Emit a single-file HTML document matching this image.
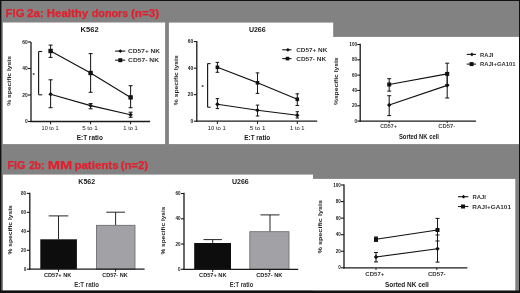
<!DOCTYPE html>
<html><head><meta charset="utf-8"><title>Figure 2</title>
<style>html,body{margin:0;padding:0;background:#828282;}body{width:520px;height:293px;overflow:hidden;}svg{display:block;}</style>
</head><body>
<svg width="520" height="293" viewBox="0 0 520 293" font-family="'Liberation Sans', Arial, sans-serif">
<rect x="0.0" y="0.0" width="520.0" height="293.0" fill="#828282" />
<rect x="2.8" y="22.5" width="162.3" height="121.6" fill="#fff" />
<rect x="168.9" y="22.6" width="164.3" height="121.5" fill="#fff" />
<rect x="333.0" y="36.9" width="186.0" height="107.2" fill="#fff" />
<rect x="3.0" y="174.6" width="310.0" height="116.0" fill="#fff" />
<rect x="312.8" y="178.9" width="202.5" height="112.0" fill="#fff" />
<rect x="0.0" y="0.0" width="520.0" height="1.0" fill="#111" />
<rect x="0.0" y="0.0" width="1.4" height="293.0" fill="#111" />
<rect x="519.0" y="0.0" width="1.0" height="293.0" fill="#111" />
<rect x="0.0" y="290.5" width="520.0" height="2.5" fill="#111" />
<text x="5.62" y="16.7" font-size="11.4" font-weight="bold" fill="#e41e2c" textLength="18.83" lengthAdjust="spacingAndGlyphs" stroke="#e41e2c" stroke-width="0.25">FIG</text>
<text x="27.14" y="16.7" font-size="11.4" font-weight="bold" fill="#e41e2c" textLength="16.88" lengthAdjust="spacingAndGlyphs" stroke="#e41e2c" stroke-width="0.25">2a:</text>
<text x="46.81" y="16.7" font-size="11.4" font-weight="bold" fill="#e41e2c" textLength="41.23" lengthAdjust="spacingAndGlyphs" stroke="#e41e2c" stroke-width="0.25">Healthy</text>
<text x="91.72" y="16.7" font-size="11.4" font-weight="bold" fill="#e41e2c" textLength="36.55" lengthAdjust="spacingAndGlyphs" stroke="#e41e2c" stroke-width="0.25">donors</text>
<text x="130.97" y="16.7" font-size="11.4" font-weight="bold" fill="#e41e2c" textLength="28.13" lengthAdjust="spacingAndGlyphs" stroke="#e41e2c" stroke-width="0.25">(n=3)</text>
<text x="7.45" y="168.7" font-size="11.2" font-weight="bold" fill="#e41e2c" textLength="18.07" lengthAdjust="spacingAndGlyphs" stroke="#e41e2c" stroke-width="0.25">FIG</text>
<text x="29.2" y="168.7" font-size="11.2" font-weight="bold" fill="#e41e2c" textLength="15.17" lengthAdjust="spacingAndGlyphs" stroke="#e41e2c" stroke-width="0.25">2b:</text>
<text x="47.7" y="168.7" font-size="11.2" font-weight="bold" fill="#e41e2c" textLength="24.42" lengthAdjust="spacingAndGlyphs" stroke="#e41e2c" stroke-width="0.25">MM</text>
<text x="74.4" y="168.7" font-size="11.2" font-weight="bold" fill="#e41e2c" textLength="44.2" lengthAdjust="spacingAndGlyphs" stroke="#e41e2c" stroke-width="0.25">patients</text>
<text x="120.69" y="168.7" font-size="11.2" font-weight="bold" fill="#e41e2c" textLength="27.3" lengthAdjust="spacingAndGlyphs" stroke="#e41e2c" stroke-width="0.25">(n=2)</text>
<text x="80.61" y="32.2" font-size="7.4" font-weight="bold" fill="#1a1a1a" textLength="18.0" lengthAdjust="spacingAndGlyphs">K562</text>
<line x1="31.0" y1="41.9" x2="31.0" y2="122.1" stroke="#1a1a1a" stroke-width="1.3"/>
<line x1="28.0" y1="121.5" x2="31.0" y2="121.5" stroke="#1a1a1a" stroke-width="1.1"/>
<text x="27.8" y="123.26" font-size="4.9" text-anchor="end" font-weight="bold" fill="#222">0</text>
<line x1="28.0" y1="95.0" x2="31.0" y2="95.0" stroke="#1a1a1a" stroke-width="1.1"/>
<text x="27.8" y="96.76" font-size="4.9" text-anchor="end" font-weight="bold" fill="#222">20</text>
<line x1="28.0" y1="68.5" x2="31.0" y2="68.5" stroke="#1a1a1a" stroke-width="1.1"/>
<text x="27.8" y="70.26" font-size="4.9" text-anchor="end" font-weight="bold" fill="#222">40</text>
<line x1="28.0" y1="42.0" x2="31.0" y2="42.0" stroke="#1a1a1a" stroke-width="1.1"/>
<text x="27.8" y="43.76" font-size="4.9" text-anchor="end" font-weight="bold" fill="#222">60</text>
<line x1="30.4" y1="121.5" x2="150.0" y2="121.5" stroke="#1a1a1a" stroke-width="1.3"/>
<line x1="50.6" y1="121.5" x2="50.6" y2="124.3" stroke="#1a1a1a" stroke-width="1.0"/>
<line x1="90.6" y1="121.5" x2="90.6" y2="124.3" stroke="#1a1a1a" stroke-width="1.0"/>
<line x1="130.6" y1="121.5" x2="130.6" y2="124.3" stroke="#1a1a1a" stroke-width="1.0"/>
<text transform="translate(11.1,105.87) rotate(-90)" x="0" y="0" font-size="6.2" font-weight="bold" fill="#222" textLength="49.86" lengthAdjust="spacingAndGlyphs">% specific lysis</text>
<text x="41.59" y="130.1" font-size="5.2" fill="#222" textLength="16.91" lengthAdjust="spacingAndGlyphs">10 to 1</text>
<text x="82.15" y="130.1" font-size="5.2" fill="#222" textLength="15.68" lengthAdjust="spacingAndGlyphs">5 to 1</text>
<text x="123.37" y="130.1" font-size="5.2" fill="#222" textLength="14.43" lengthAdjust="spacingAndGlyphs">1 to 1</text>
<text x="76.68" y="139.7" font-size="7.0" font-weight="bold" fill="#1a1a1a" textLength="26.18" lengthAdjust="spacingAndGlyphs">E:T ratio</text>
<line x1="38.6" y1="51.5" x2="38.6" y2="94.8" stroke="#1a1a1a" stroke-width="1.15"/>
<line x1="38.6" y1="51.5" x2="42.2" y2="51.5" stroke="#1a1a1a" stroke-width="1.1"/>
<line x1="38.6" y1="94.8" x2="42.2" y2="94.8" stroke="#1a1a1a" stroke-width="1.1"/>
<text x="33.7" y="77.2" font-size="6" text-anchor="middle" font-weight="bold" fill="#222">*</text>
<polyline points="50.6,51.0 90.6,73.0 130.6,97.4" fill="none" stroke="#111" stroke-width="1.15"/>
<polyline points="50.6,94.3 90.6,105.6 130.6,114.8" fill="none" stroke="#111" stroke-width="1.15"/>
<line x1="50.6" y1="45.1" x2="50.6" y2="57.4" stroke="#1a1a1a" stroke-width="1.05"/>
<line x1="48.6" y1="45.1" x2="52.6" y2="45.1" stroke="#1a1a1a" stroke-width="1.05"/>
<line x1="48.6" y1="57.4" x2="52.6" y2="57.4" stroke="#1a1a1a" stroke-width="1.05"/>
<line x1="90.6" y1="53.6" x2="90.6" y2="92.3" stroke="#1a1a1a" stroke-width="1.05"/>
<line x1="88.6" y1="53.6" x2="92.6" y2="53.6" stroke="#1a1a1a" stroke-width="1.05"/>
<line x1="88.6" y1="92.3" x2="92.6" y2="92.3" stroke="#1a1a1a" stroke-width="1.05"/>
<line x1="130.6" y1="85.7" x2="130.6" y2="107.7" stroke="#1a1a1a" stroke-width="1.05"/>
<line x1="128.6" y1="85.7" x2="132.6" y2="85.7" stroke="#1a1a1a" stroke-width="1.05"/>
<line x1="128.6" y1="107.7" x2="132.6" y2="107.7" stroke="#1a1a1a" stroke-width="1.05"/>
<line x1="50.6" y1="79.8" x2="50.6" y2="107.7" stroke="#1a1a1a" stroke-width="1.05"/>
<line x1="48.6" y1="79.8" x2="52.6" y2="79.8" stroke="#1a1a1a" stroke-width="1.05"/>
<line x1="48.6" y1="107.7" x2="52.6" y2="107.7" stroke="#1a1a1a" stroke-width="1.05"/>
<line x1="90.6" y1="103.6" x2="90.6" y2="108.8" stroke="#1a1a1a" stroke-width="1.05"/>
<line x1="88.6" y1="103.6" x2="92.6" y2="103.6" stroke="#1a1a1a" stroke-width="1.05"/>
<line x1="88.6" y1="108.8" x2="92.6" y2="108.8" stroke="#1a1a1a" stroke-width="1.05"/>
<line x1="130.6" y1="112.2" x2="130.6" y2="117.3" stroke="#1a1a1a" stroke-width="1.05"/>
<line x1="128.6" y1="112.2" x2="132.6" y2="112.2" stroke="#1a1a1a" stroke-width="1.05"/>
<line x1="128.6" y1="117.3" x2="132.6" y2="117.3" stroke="#1a1a1a" stroke-width="1.05"/>
<rect x="48.4" y="48.8" width="4.4" height="4.4" fill="#111" />
<rect x="88.4" y="70.8" width="4.4" height="4.4" fill="#111" />
<rect x="128.4" y="95.2" width="4.4" height="4.4" fill="#111" />
<path d="M50.6 92.1L52.8 94.3L50.6 96.5L48.4 94.3Z" fill="#111"/>
<path d="M90.6 103.4L92.8 105.6L90.6 107.8L88.4 105.6Z" fill="#111"/>
<path d="M130.6 112.6L132.8 114.8L130.6 117.0L128.4 114.8Z" fill="#111"/>
<line x1="115.1" y1="51.1" x2="125.3" y2="51.1" stroke="#1a1a1a" stroke-width="1.1"/>
<path d="M120.3 49.2L122.2 51.1L120.3 53.0L118.4 51.1Z" fill="#111"/>
<line x1="115.1" y1="60.2" x2="125.3" y2="60.2" stroke="#1a1a1a" stroke-width="1.1"/>
<rect x="118.3" y="58.2" width="4.0" height="4.0" fill="#111" />
<text x="128.14" y="53.2" font-size="5.8" font-weight="bold" fill="#333" textLength="31.95" lengthAdjust="spacingAndGlyphs">CD57+ NK</text>
<text x="128.13" y="61.6" font-size="5.8" font-weight="bold" fill="#333" textLength="30.85" lengthAdjust="spacingAndGlyphs">CD57- NK</text>
<text x="248.88" y="32.4" font-size="7.4" font-weight="bold" fill="#1a1a1a" textLength="16.77" lengthAdjust="spacingAndGlyphs">U266</text>
<line x1="196.8" y1="41.1" x2="196.8" y2="121.8" stroke="#1a1a1a" stroke-width="1.3"/>
<line x1="193.8" y1="121.2" x2="196.8" y2="121.2" stroke="#1a1a1a" stroke-width="1.1"/>
<text x="193.2" y="122.96" font-size="4.9" text-anchor="end" font-weight="bold" fill="#222">0</text>
<line x1="193.8" y1="94.66" x2="196.8" y2="94.66" stroke="#1a1a1a" stroke-width="1.1"/>
<text x="193.2" y="96.42" font-size="4.9" text-anchor="end" font-weight="bold" fill="#222">20</text>
<line x1="193.8" y1="68.12" x2="196.8" y2="68.12" stroke="#1a1a1a" stroke-width="1.1"/>
<text x="193.2" y="69.88" font-size="4.9" text-anchor="end" font-weight="bold" fill="#222">40</text>
<line x1="193.8" y1="41.58" x2="196.8" y2="41.58" stroke="#1a1a1a" stroke-width="1.1"/>
<text x="193.2" y="43.34" font-size="4.9" text-anchor="end" font-weight="bold" fill="#222">60</text>
<line x1="196.2" y1="121.2" x2="317.2" y2="121.2" stroke="#1a1a1a" stroke-width="1.3"/>
<line x1="217.4" y1="121.2" x2="217.4" y2="124.0" stroke="#1a1a1a" stroke-width="1.0"/>
<line x1="257.5" y1="121.2" x2="257.5" y2="124.0" stroke="#1a1a1a" stroke-width="1.0"/>
<line x1="297.3" y1="121.2" x2="297.3" y2="124.0" stroke="#1a1a1a" stroke-width="1.0"/>
<text transform="translate(177.6,105.17) rotate(-90)" x="0" y="0" font-size="6.2" font-weight="bold" fill="#222" textLength="49.86" lengthAdjust="spacingAndGlyphs">% specific lysis</text>
<text x="207.76" y="130.2" font-size="5.2" fill="#222" textLength="18.06" lengthAdjust="spacingAndGlyphs">10 to 1</text>
<text x="249.65" y="130.2" font-size="5.2" fill="#222" textLength="15.78" lengthAdjust="spacingAndGlyphs">5 to 1</text>
<text x="290.07" y="130.2" font-size="5.2" fill="#222" textLength="14.43" lengthAdjust="spacingAndGlyphs">1 to 1</text>
<text x="244.28" y="139.7" font-size="7.0" font-weight="bold" fill="#1a1a1a" textLength="25.98" lengthAdjust="spacingAndGlyphs">E:T ratio</text>
<line x1="207.6" y1="63.6" x2="207.6" y2="107.2" stroke="#1a1a1a" stroke-width="1.15"/>
<line x1="207.6" y1="63.6" x2="210.6" y2="63.6" stroke="#1a1a1a" stroke-width="1.1"/>
<line x1="207.6" y1="107.2" x2="210.6" y2="107.2" stroke="#1a1a1a" stroke-width="1.1"/>
<text x="202.6" y="89.4" font-size="6" text-anchor="middle" font-weight="bold" fill="#222">*</text>
<polyline points="217.4,67.3 257.5,82.8 297.3,99.3" fill="none" stroke="#111" stroke-width="1.15"/>
<polyline points="217.4,104.2 257.5,110.2 297.3,115.3" fill="none" stroke="#111" stroke-width="1.15"/>
<line x1="217.4" y1="62.4" x2="217.4" y2="72.3" stroke="#1a1a1a" stroke-width="1.05"/>
<line x1="215.6" y1="62.4" x2="219.2" y2="62.4" stroke="#1a1a1a" stroke-width="1.05"/>
<line x1="215.6" y1="72.3" x2="219.2" y2="72.3" stroke="#1a1a1a" stroke-width="1.05"/>
<line x1="257.5" y1="72.9" x2="257.5" y2="93.4" stroke="#1a1a1a" stroke-width="1.05"/>
<line x1="255.7" y1="72.9" x2="259.3" y2="72.9" stroke="#1a1a1a" stroke-width="1.05"/>
<line x1="255.7" y1="93.4" x2="259.3" y2="93.4" stroke="#1a1a1a" stroke-width="1.05"/>
<line x1="297.3" y1="93.8" x2="297.3" y2="105.5" stroke="#1a1a1a" stroke-width="1.05"/>
<line x1="295.5" y1="93.8" x2="299.1" y2="93.8" stroke="#1a1a1a" stroke-width="1.05"/>
<line x1="295.5" y1="105.5" x2="299.1" y2="105.5" stroke="#1a1a1a" stroke-width="1.05"/>
<line x1="217.4" y1="98.6" x2="217.4" y2="108.6" stroke="#1a1a1a" stroke-width="1.05"/>
<line x1="215.7" y1="98.6" x2="219.1" y2="98.6" stroke="#1a1a1a" stroke-width="1.05"/>
<line x1="215.7" y1="108.6" x2="219.1" y2="108.6" stroke="#1a1a1a" stroke-width="1.05"/>
<line x1="257.5" y1="105.1" x2="257.5" y2="116.0" stroke="#1a1a1a" stroke-width="1.05"/>
<line x1="255.8" y1="105.1" x2="259.2" y2="105.1" stroke="#1a1a1a" stroke-width="1.05"/>
<line x1="255.8" y1="116.0" x2="259.2" y2="116.0" stroke="#1a1a1a" stroke-width="1.05"/>
<line x1="297.3" y1="111.7" x2="297.3" y2="118.0" stroke="#1a1a1a" stroke-width="1.05"/>
<line x1="295.6" y1="111.7" x2="299.0" y2="111.7" stroke="#1a1a1a" stroke-width="1.05"/>
<line x1="295.6" y1="118.0" x2="299.0" y2="118.0" stroke="#1a1a1a" stroke-width="1.05"/>
<rect x="215.6" y="65.5" width="3.6" height="3.6" fill="#111" />
<rect x="255.7" y="81.0" width="3.6" height="3.6" fill="#111" />
<rect x="295.5" y="97.5" width="3.6" height="3.6" fill="#111" />
<path d="M217.4 102.0L219.6 104.2L217.4 106.4L215.2 104.2Z" fill="#111"/>
<path d="M257.5 108.0L259.7 110.2L257.5 112.4L255.3 110.2Z" fill="#111"/>
<path d="M297.3 113.1L299.5 115.3L297.3 117.5L295.1 115.3Z" fill="#111"/>
<line x1="282.2" y1="49.8" x2="291.5" y2="49.8" stroke="#1a1a1a" stroke-width="1.1"/>
<path d="M287.9 47.9L289.8 49.8L287.9 51.7L286.0 49.8Z" fill="#111"/>
<line x1="282.2" y1="58.6" x2="291.5" y2="58.6" stroke="#1a1a1a" stroke-width="1.1"/>
<rect x="285.7" y="56.8" width="3.6" height="3.6" fill="#111" />
<text x="296.24" y="51.9" font-size="5.8" font-weight="bold" fill="#333" textLength="31.14" lengthAdjust="spacingAndGlyphs">CD57+ NK</text>
<text x="296.24" y="60.7" font-size="5.8" font-weight="bold" fill="#333" textLength="29.84" lengthAdjust="spacingAndGlyphs">CD57- NK</text>
<line x1="360.2" y1="43.8" x2="360.2" y2="121.7" stroke="#1a1a1a" stroke-width="1.3"/>
<line x1="357.2" y1="121.1" x2="360.2" y2="121.1" stroke="#1a1a1a" stroke-width="1.1"/>
<text x="357.0" y="122.76" font-size="4.6" text-anchor="end" font-weight="bold" fill="#222">0</text>
<line x1="357.2" y1="105.78" x2="360.2" y2="105.78" stroke="#1a1a1a" stroke-width="1.1"/>
<text x="357.0" y="107.44" font-size="4.6" text-anchor="end" font-weight="bold" fill="#222">20</text>
<line x1="357.2" y1="90.46" x2="360.2" y2="90.46" stroke="#1a1a1a" stroke-width="1.1"/>
<text x="357.0" y="92.12" font-size="4.6" text-anchor="end" font-weight="bold" fill="#222">40</text>
<line x1="357.2" y1="75.14" x2="360.2" y2="75.14" stroke="#1a1a1a" stroke-width="1.1"/>
<text x="357.0" y="76.8" font-size="4.6" text-anchor="end" font-weight="bold" fill="#222">60</text>
<line x1="357.2" y1="59.82" x2="360.2" y2="59.82" stroke="#1a1a1a" stroke-width="1.1"/>
<text x="357.0" y="61.48" font-size="4.6" text-anchor="end" font-weight="bold" fill="#222">80</text>
<line x1="357.2" y1="44.5" x2="360.2" y2="44.5" stroke="#1a1a1a" stroke-width="1.1"/>
<text x="357.0" y="46.16" font-size="4.6" text-anchor="end" font-weight="bold" fill="#222">100</text>
<line x1="359.6" y1="121.1" x2="476.0" y2="121.1" stroke="#1a1a1a" stroke-width="1.3"/>
<line x1="389.2" y1="121.1" x2="389.2" y2="123.1" stroke="#1a1a1a" stroke-width="1.0"/>
<line x1="447.2" y1="121.1" x2="447.2" y2="123.1" stroke="#1a1a1a" stroke-width="1.0"/>
<text transform="translate(337.6,105.07) rotate(-90)" x="0" y="0" font-size="5.8" font-weight="bold" fill="#222" textLength="47.64" lengthAdjust="spacingAndGlyphs">%specific lysis</text>
<text x="380.29" y="127.5" font-size="4.6" font-weight="bold" fill="#444" textLength="16.52" lengthAdjust="spacingAndGlyphs">CD57+</text>
<text x="438.37" y="127.7" font-size="4.6" font-weight="bold" fill="#444" textLength="16.97" lengthAdjust="spacingAndGlyphs">CD57-</text>
<text x="398.92" y="138.7" font-size="6.4" font-weight="bold" fill="#1a1a1a" textLength="40.02" lengthAdjust="spacingAndGlyphs">Sorted NK cell</text>
<polyline points="389.2,84.5 447.2,73.9" fill="none" stroke="#111" stroke-width="1.15"/>
<polyline points="389.2,105.0 447.2,85.4" fill="none" stroke="#111" stroke-width="1.15"/>
<line x1="389.2" y1="78.7" x2="389.2" y2="91.1" stroke="#1a1a1a" stroke-width="1.05"/>
<line x1="387.2" y1="78.7" x2="391.2" y2="78.7" stroke="#1a1a1a" stroke-width="1.05"/>
<line x1="387.2" y1="91.1" x2="391.2" y2="91.1" stroke="#1a1a1a" stroke-width="1.05"/>
<line x1="447.2" y1="63.2" x2="447.2" y2="84.6" stroke="#1a1a1a" stroke-width="1.05"/>
<line x1="445.2" y1="63.2" x2="449.2" y2="63.2" stroke="#1a1a1a" stroke-width="1.05"/>
<line x1="445.2" y1="84.6" x2="449.2" y2="84.6" stroke="#1a1a1a" stroke-width="1.05"/>
<line x1="389.2" y1="95.7" x2="389.2" y2="115.6" stroke="#1a1a1a" stroke-width="1.05"/>
<line x1="387.2" y1="95.7" x2="391.2" y2="95.7" stroke="#1a1a1a" stroke-width="1.05"/>
<line x1="387.2" y1="115.6" x2="391.2" y2="115.6" stroke="#1a1a1a" stroke-width="1.05"/>
<line x1="447.2" y1="72.8" x2="447.2" y2="98.0" stroke="#1a1a1a" stroke-width="1.05"/>
<line x1="445.2" y1="72.8" x2="449.2" y2="72.8" stroke="#1a1a1a" stroke-width="1.05"/>
<line x1="445.2" y1="98.0" x2="449.2" y2="98.0" stroke="#1a1a1a" stroke-width="1.05"/>
<rect x="387.2" y="82.5" width="4.0" height="4.0" fill="#111" />
<rect x="445.2" y="71.9" width="4.0" height="4.0" fill="#111" />
<path d="M389.2 102.8L391.4 105.0L389.2 107.2L387.0 105.0Z" fill="#111"/>
<path d="M447.2 83.2L449.4 85.4L447.2 87.6L445.0 85.4Z" fill="#111"/>
<line x1="466.8" y1="54.4" x2="476.0" y2="54.4" stroke="#1a1a1a" stroke-width="1.1"/>
<path d="M471.9 52.5L473.8 54.4L471.9 56.3L470.0 54.4Z" fill="#111"/>
<line x1="466.8" y1="64.1" x2="476.0" y2="64.1" stroke="#1a1a1a" stroke-width="1.1"/>
<rect x="469.6" y="62.1" width="4.0" height="4.0" fill="#111" />
<text x="480.02" y="56.8" font-size="5.8" font-weight="bold" fill="#333" textLength="13.28" lengthAdjust="spacingAndGlyphs">RAJI</text>
<text x="480.02" y="65.9" font-size="5.8" font-weight="bold" fill="#333" textLength="35.64" lengthAdjust="spacingAndGlyphs">RAJI+GA101</text>
<text x="78.34" y="183.5" font-size="7.6" font-weight="bold" fill="#1a1a1a" textLength="16.84" lengthAdjust="spacingAndGlyphs">K562</text>
<line x1="29.8" y1="192.8" x2="29.8" y2="269.8" stroke="#1a1a1a" stroke-width="1.3"/>
<line x1="26.8" y1="269.2" x2="29.8" y2="269.2" stroke="#1a1a1a" stroke-width="1.1"/>
<text x="26.2" y="270.86" font-size="4.6" text-anchor="end" font-weight="bold" fill="#222">0</text>
<line x1="26.8" y1="250.25" x2="29.8" y2="250.25" stroke="#1a1a1a" stroke-width="1.1"/>
<text x="26.2" y="251.91" font-size="4.6" text-anchor="end" font-weight="bold" fill="#222">20</text>
<line x1="26.8" y1="231.3" x2="29.8" y2="231.3" stroke="#1a1a1a" stroke-width="1.1"/>
<text x="26.2" y="232.96" font-size="4.6" text-anchor="end" font-weight="bold" fill="#222">40</text>
<line x1="26.8" y1="212.35" x2="29.8" y2="212.35" stroke="#1a1a1a" stroke-width="1.1"/>
<text x="26.2" y="214.01" font-size="4.6" text-anchor="end" font-weight="bold" fill="#222">60</text>
<line x1="26.8" y1="193.4" x2="29.8" y2="193.4" stroke="#1a1a1a" stroke-width="1.1"/>
<text x="26.2" y="195.06" font-size="4.6" text-anchor="end" font-weight="bold" fill="#222">80</text>
<line x1="58.5" y1="215.9" x2="58.5" y2="239.3" stroke="#1a1a1a" stroke-width="0.95"/>
<line x1="48.7" y1="215.9" x2="68.3" y2="215.9" stroke="#1a1a1a" stroke-width="0.95"/>
<line x1="115.6" y1="212.2" x2="115.6" y2="225.3" stroke="#1a1a1a" stroke-width="0.95"/>
<line x1="106.3" y1="212.2" x2="124.9" y2="212.2" stroke="#1a1a1a" stroke-width="0.95"/>
<rect x="40.3" y="239.3" width="36.6" height="29.9" fill="#0d0d0d" />
<rect x="96.4" y="225.3" width="38.6" height="43.9" fill="#a2a2a6" stroke="#666" stroke-width="0.8"/>
<line x1="29.2" y1="269.2" x2="144.6" y2="269.2" stroke="#1a1a1a" stroke-width="1.3"/>
<line x1="58.5" y1="269.2" x2="58.5" y2="271.7" stroke="#1a1a1a" stroke-width="1.0"/>
<line x1="115.6" y1="269.2" x2="115.6" y2="271.7" stroke="#1a1a1a" stroke-width="1.0"/>
<text transform="translate(12.4,254.47) rotate(-90)" x="0" y="0" font-size="6.2" font-weight="bold" fill="#222" textLength="49.15" lengthAdjust="spacingAndGlyphs">% specific lysis</text>
<text x="43.97" y="277.1" font-size="4.8" font-weight="bold" fill="#222" textLength="27.4" lengthAdjust="spacingAndGlyphs">CD57+ NK</text>
<text x="102.28" y="277.1" font-size="4.8" font-weight="bold" fill="#222" textLength="25.39" lengthAdjust="spacingAndGlyphs">CD57- NK</text>
<text x="74.2" y="287.4" font-size="7.0" font-weight="bold" fill="#333" textLength="24.85" lengthAdjust="spacingAndGlyphs">E:T ratio</text>
<text x="231.98" y="183.5" font-size="7.6" font-weight="bold" fill="#1a1a1a" textLength="16.77" lengthAdjust="spacingAndGlyphs">U266</text>
<line x1="184.0" y1="192.8" x2="184.0" y2="269.9" stroke="#1a1a1a" stroke-width="1.3"/>
<line x1="181.0" y1="269.3" x2="184.0" y2="269.3" stroke="#1a1a1a" stroke-width="1.1"/>
<text x="180.6" y="270.96" font-size="4.6" text-anchor="end" font-weight="bold" fill="#222">0</text>
<line x1="181.0" y1="244.04" x2="184.0" y2="244.04" stroke="#1a1a1a" stroke-width="1.1"/>
<text x="180.6" y="245.7" font-size="4.6" text-anchor="end" font-weight="bold" fill="#222">20</text>
<line x1="181.0" y1="218.78" x2="184.0" y2="218.78" stroke="#1a1a1a" stroke-width="1.1"/>
<text x="180.6" y="220.44" font-size="4.6" text-anchor="end" font-weight="bold" fill="#222">40</text>
<line x1="181.0" y1="193.52" x2="184.0" y2="193.52" stroke="#1a1a1a" stroke-width="1.1"/>
<text x="180.6" y="195.18" font-size="4.6" text-anchor="end" font-weight="bold" fill="#222">60</text>
<line x1="212.7" y1="239.6" x2="212.7" y2="243.0" stroke="#1a1a1a" stroke-width="0.95"/>
<line x1="203.5" y1="239.6" x2="221.9" y2="239.6" stroke="#1a1a1a" stroke-width="0.95"/>
<line x1="270.0" y1="214.9" x2="270.0" y2="231.7" stroke="#1a1a1a" stroke-width="0.95"/>
<line x1="260.5" y1="214.9" x2="279.5" y2="214.9" stroke="#1a1a1a" stroke-width="0.95"/>
<rect x="194.2" y="243.0" width="36.8" height="26.3" fill="#0d0d0d" />
<rect x="249.8" y="231.7" width="39.2" height="37.6" fill="#a2a2a6" stroke="#666" stroke-width="0.8"/>
<line x1="183.4" y1="269.3" x2="298.2" y2="269.3" stroke="#1a1a1a" stroke-width="1.3"/>
<line x1="212.7" y1="269.3" x2="212.7" y2="271.8" stroke="#1a1a1a" stroke-width="1.0"/>
<line x1="269.8" y1="269.3" x2="269.8" y2="271.8" stroke="#1a1a1a" stroke-width="1.0"/>
<text transform="translate(164.6,254.46) rotate(-90)" x="0" y="0" font-size="6.2" font-weight="bold" fill="#222" textLength="47.74" lengthAdjust="spacingAndGlyphs">% specific lysis</text>
<text x="199.07" y="277.1" font-size="4.8" font-weight="bold" fill="#222" textLength="27.4" lengthAdjust="spacingAndGlyphs">CD57+ NK</text>
<text x="256.17" y="277.1" font-size="4.8" font-weight="bold" fill="#222" textLength="26.3" lengthAdjust="spacingAndGlyphs">CD57- NK</text>
<text x="229.72" y="287.4" font-size="7.0" font-weight="bold" fill="#333" textLength="23.51" lengthAdjust="spacingAndGlyphs">E:T ratio</text>
<line x1="344.0" y1="184.6" x2="344.0" y2="268.4" stroke="#1a1a1a" stroke-width="1.3"/>
<line x1="341.0" y1="267.8" x2="344.0" y2="267.8" stroke="#1a1a1a" stroke-width="1.1"/>
<text x="340.8" y="269.46" font-size="4.6" text-anchor="end" font-weight="bold" fill="#222">0</text>
<line x1="341.0" y1="251.24" x2="344.0" y2="251.24" stroke="#1a1a1a" stroke-width="1.1"/>
<text x="340.8" y="252.9" font-size="4.6" text-anchor="end" font-weight="bold" fill="#222">20</text>
<line x1="341.0" y1="234.68" x2="344.0" y2="234.68" stroke="#1a1a1a" stroke-width="1.1"/>
<text x="340.8" y="236.34" font-size="4.6" text-anchor="end" font-weight="bold" fill="#222">40</text>
<line x1="341.0" y1="218.12" x2="344.0" y2="218.12" stroke="#1a1a1a" stroke-width="1.1"/>
<text x="340.8" y="219.78" font-size="4.6" text-anchor="end" font-weight="bold" fill="#222">60</text>
<line x1="341.0" y1="201.56" x2="344.0" y2="201.56" stroke="#1a1a1a" stroke-width="1.1"/>
<text x="340.8" y="203.22" font-size="4.6" text-anchor="end" font-weight="bold" fill="#222">80</text>
<line x1="341.0" y1="185.0" x2="344.0" y2="185.0" stroke="#1a1a1a" stroke-width="1.1"/>
<text x="340.8" y="186.66" font-size="4.6" text-anchor="end" font-weight="bold" fill="#222">100</text>
<line x1="343.4" y1="267.8" x2="467.4" y2="267.8" stroke="#1a1a1a" stroke-width="1.3"/>
<line x1="376.0" y1="267.8" x2="376.0" y2="270.0" stroke="#1a1a1a" stroke-width="1.0"/>
<line x1="436.8" y1="267.8" x2="436.8" y2="270.0" stroke="#1a1a1a" stroke-width="1.0"/>
<text transform="translate(321.8,253.58) rotate(-90)" x="0" y="0" font-size="5.8" font-weight="bold" fill="#222" textLength="53.59" lengthAdjust="spacingAndGlyphs">% specific lysis</text>
<text x="365.36" y="276.0" font-size="5.4" font-weight="bold" fill="#333" textLength="18.99" lengthAdjust="spacingAndGlyphs">CD57+</text>
<text x="427.96" y="276.1" font-size="5.4" font-weight="bold" fill="#333" textLength="17.69" lengthAdjust="spacingAndGlyphs">CD57-</text>
<text x="384.91" y="286.5" font-size="7.0" font-weight="bold" fill="#1a1a1a" textLength="43.98" lengthAdjust="spacingAndGlyphs">Sorted NK cell</text>
<polyline points="376.0,239.2 437.5,230.0" fill="none" stroke="#111" stroke-width="1.15"/>
<polyline points="376.0,257.0 437.5,248.7" fill="none" stroke="#111" stroke-width="1.15"/>
<line x1="376.0" y1="237.0" x2="376.0" y2="241.4" stroke="#1a1a1a" stroke-width="1.05"/>
<line x1="374.0" y1="237.0" x2="378.0" y2="237.0" stroke="#1a1a1a" stroke-width="1.05"/>
<line x1="374.0" y1="241.4" x2="378.0" y2="241.4" stroke="#1a1a1a" stroke-width="1.05"/>
<line x1="437.5" y1="218.4" x2="437.5" y2="241.0" stroke="#1a1a1a" stroke-width="1.05"/>
<line x1="435.5" y1="218.4" x2="439.5" y2="218.4" stroke="#1a1a1a" stroke-width="1.05"/>
<line x1="435.5" y1="241.0" x2="439.5" y2="241.0" stroke="#1a1a1a" stroke-width="1.05"/>
<line x1="376.0" y1="252.5" x2="376.0" y2="261.9" stroke="#1a1a1a" stroke-width="1.05"/>
<line x1="374.0" y1="252.5" x2="378.0" y2="252.5" stroke="#1a1a1a" stroke-width="1.05"/>
<line x1="374.0" y1="261.9" x2="378.0" y2="261.9" stroke="#1a1a1a" stroke-width="1.05"/>
<line x1="437.5" y1="235.0" x2="437.5" y2="262.1" stroke="#1a1a1a" stroke-width="1.05"/>
<line x1="435.5" y1="235.0" x2="439.5" y2="235.0" stroke="#1a1a1a" stroke-width="1.05"/>
<line x1="435.5" y1="262.1" x2="439.5" y2="262.1" stroke="#1a1a1a" stroke-width="1.05"/>
<rect x="374.0" y="237.2" width="4.0" height="4.0" fill="#111" />
<rect x="435.5" y="228.0" width="4.0" height="4.0" fill="#111" />
<path d="M376.0 254.8L378.2 257.0L376.0 259.2L373.8 257.0Z" fill="#111"/>
<path d="M437.5 246.5L439.7 248.7L437.5 250.9L435.3 248.7Z" fill="#111"/>
<line x1="458.0" y1="196.7" x2="468.4" y2="196.7" stroke="#1a1a1a" stroke-width="1.1"/>
<path d="M463.5 194.8L465.4 196.7L463.5 198.6L461.6 196.7Z" fill="#111"/>
<line x1="458.0" y1="206.5" x2="468.4" y2="206.5" stroke="#1a1a1a" stroke-width="1.1"/>
<rect x="461.0" y="204.5" width="4.0" height="4.0" fill="#111" />
<text x="472.42" y="199.0" font-size="5.8" font-weight="bold" fill="#333" textLength="13.38" lengthAdjust="spacingAndGlyphs">RAJI</text>
<text x="472.38" y="209.3" font-size="5.8" font-weight="bold" fill="#333" textLength="38.58" lengthAdjust="spacingAndGlyphs">RAJI+GA101</text>
</svg>
</body></html>
